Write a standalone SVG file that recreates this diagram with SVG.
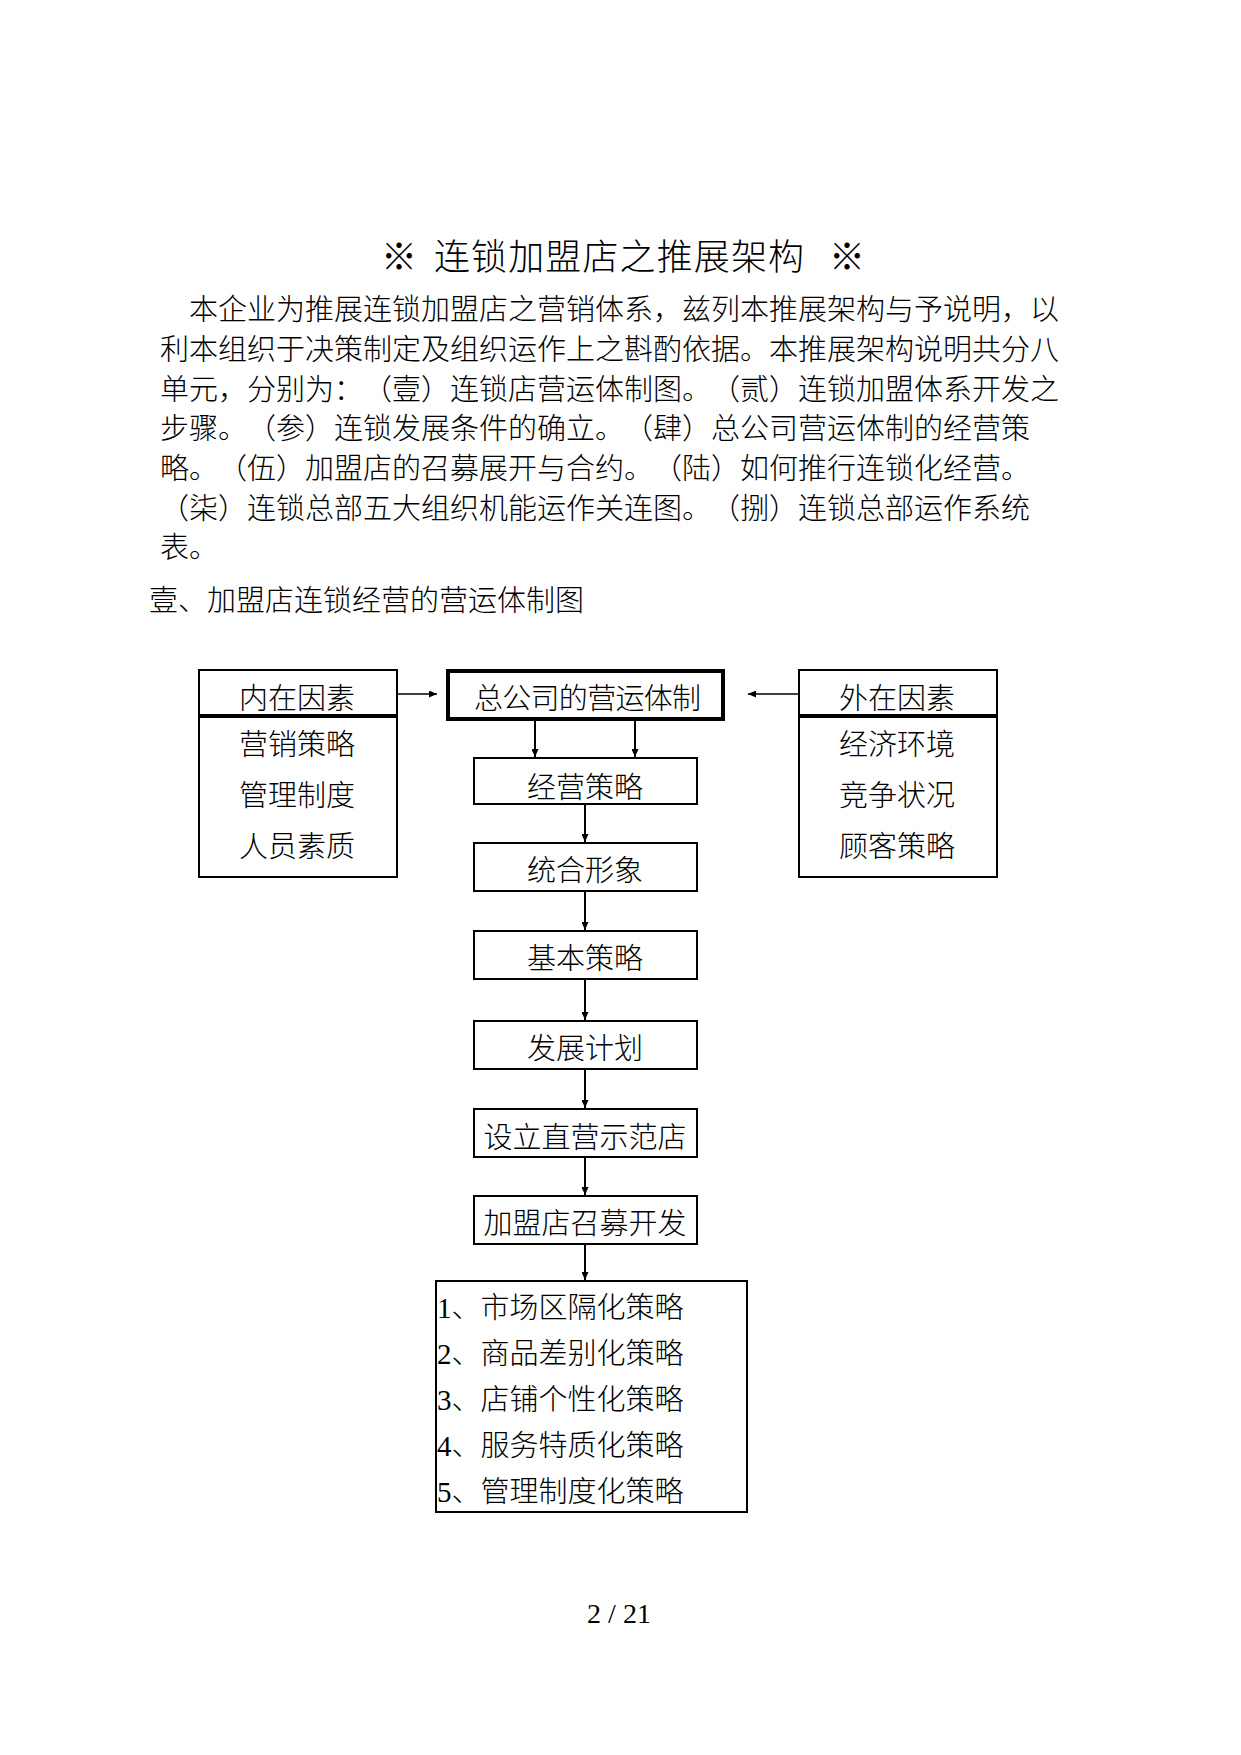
<svg xmlns="http://www.w3.org/2000/svg" width="1241" height="1755" viewBox="0 0 1241 1755">
<defs>
<style>
.t{font-family:"Liberation Serif","Noto Sans CJK SC",serif;font-size:29px;fill:#000;font-weight:300;text-spacing-trim:space-all}
.c{text-anchor:middle}
.box{fill:none;stroke:#000;stroke-width:2}
.thick{fill:none;stroke:#000;stroke-width:4}
.conn{fill:none;stroke:#000;stroke-width:2;marker-end:url(#ah)}
</style>
<marker id="ah" markerUnits="userSpaceOnUse" markerWidth="9" markerHeight="7" refX="8" refY="3.5" orient="auto">
<path d="M0,0 L8,3.5 L0,7 z" fill="#000"/>
</marker>
</defs>
<rect width="1241" height="1755" fill="#fff"/>

<g id="title">
<text class="t" style="font-size:36px" x="381" y="270">※</text>
<text class="t" style="font-size:36px" x="434" y="270" textLength="370" lengthAdjust="spacing">连锁加盟店之推展架构</text>
<text class="t" style="font-size:36px" x="829" y="270">※</text>
</g>

<g id="intro">
<text class="t" x="189" y="320" textLength="870" lengthAdjust="spacing">本企业为推展连锁加盟店之营销体系，兹列本推展架构与予说明，以</text>
<text class="t" x="160" y="360" textLength="899" lengthAdjust="spacing">利本组织于决策制定及组织运作上之斟酌依据。本推展架构说明共分八</text>
<text class="t" x="160" y="400" textLength="899" lengthAdjust="spacing">单元，分别为：（壹）连锁店营运体制图。（贰）连锁加盟体系开发之</text>
<text class="t" x="160" y="439" textLength="870" lengthAdjust="spacing">步骤。（参）连锁发展条件的确立。（肆）总公司营运体制的经营策</text>
<text class="t" x="160" y="479" textLength="870" lengthAdjust="spacing">略。（伍）加盟店的召募展开与合约。（陆）如何推行连锁化经营。</text>
<text class="t" x="160" y="519" textLength="870" lengthAdjust="spacing">（柒）连锁总部五大组织机能运作关连图。（捌）连锁总部运作系统</text>
<text class="t" x="160" y="558">表。</text>
</g>

<g id="heading">
<text class="t" x="149" y="611" textLength="435" lengthAdjust="spacing">壹、加盟店连锁经营的营运体制图</text>
</g>

<g id="internal">
<rect class="box" x="199" y="670" width="198" height="207"/>
<line class="thick" x1="199" y1="716" x2="397" y2="716"/>
<text class="t c" x="297" y="709">内在因素</text>
<text class="t c" x="297" y="755">营销策略</text>
<text class="t c" x="297" y="806">管理制度</text>
<text class="t c" x="297" y="857">人员素质</text>
</g>

<g id="external">
<rect class="box" x="799" y="670" width="198" height="207"/>
<line class="thick" x1="799" y1="716" x2="997" y2="716"/>
<text class="t c" x="897" y="709">外在因素</text>
<text class="t c" x="897" y="755">经济环境</text>
<text class="t c" x="897" y="806">竞争状况</text>
<text class="t c" x="897" y="857">顾客策略</text>
</g>

<g id="hq">
<rect class="thick" x="448" y="671" width="275" height="48"/>
<text class="t" x="474" y="709" textLength="227" lengthAdjust="spacing">总公司的营运体制</text>
</g>

<g id="strategy">
<rect class="box" x="474" y="758" width="223" height="46"/>
<text class="t c" x="585" y="798">经营策略</text>
</g>

<g id="image">
<rect class="box" x="474" y="843" width="223" height="48"/>
<text class="t c" x="585" y="881">统合形象</text>
</g>

<g id="basic">
<rect class="box" x="474" y="931" width="223" height="48"/>
<text class="t c" x="585" y="969">基本策略</text>
</g>

<g id="plan">
<rect class="box" x="474" y="1021" width="223" height="48"/>
<text class="t c" x="585" y="1059">发展计划</text>
</g>

<g id="model">
<rect class="box" x="474" y="1109" width="223" height="48"/>
<text class="t c" x="585" y="1148">设立直营示范店</text>
</g>

<g id="recruit">
<rect class="box" x="474" y="1196" width="223" height="48"/>
<text class="t c" x="585" y="1234">加盟店召募开发</text>
</g>

<g id="list">
<rect class="box" x="436" y="1281" width="311" height="231"/>
<text class="t" x="437" y="1318">1、市场区隔化策略</text>
<text class="t" x="437" y="1364">2、商品差别化策略</text>
<text class="t" x="437" y="1410">3、店铺个性化策略</text>
<text class="t" x="437" y="1456">4、服务特质化策略</text>
<text class="t" x="437" y="1502">5、管理制度化策略</text>
</g>

<g id="connectors">
<line class="conn" style="stroke-width:1.5" x1="398" y1="694" x2="437" y2="694"/>
<line class="conn" style="stroke-width:1.5" x1="798" y1="694" x2="748" y2="694"/>
<line class="conn" x1="535" y1="721" x2="535" y2="757"/>
<line class="conn" x1="635" y1="721" x2="635" y2="757"/>
<line class="conn" x1="585" y1="805" x2="585" y2="842"/>
<line class="conn" x1="585" y1="892" x2="585" y2="930"/>
<line class="conn" x1="585" y1="980" x2="585" y2="1020"/>
<line class="conn" x1="585" y1="1070" x2="585" y2="1108"/>
<line class="conn" x1="585" y1="1158" x2="585" y2="1195"/>
<line class="conn" x1="585" y1="1245" x2="585" y2="1280"/>
</g>

<g id="footer">
<text class="c" style="font-family:'Liberation Serif',serif;font-size:28px" x="619" y="1623">2 / 21</text>
</g>
</svg>
